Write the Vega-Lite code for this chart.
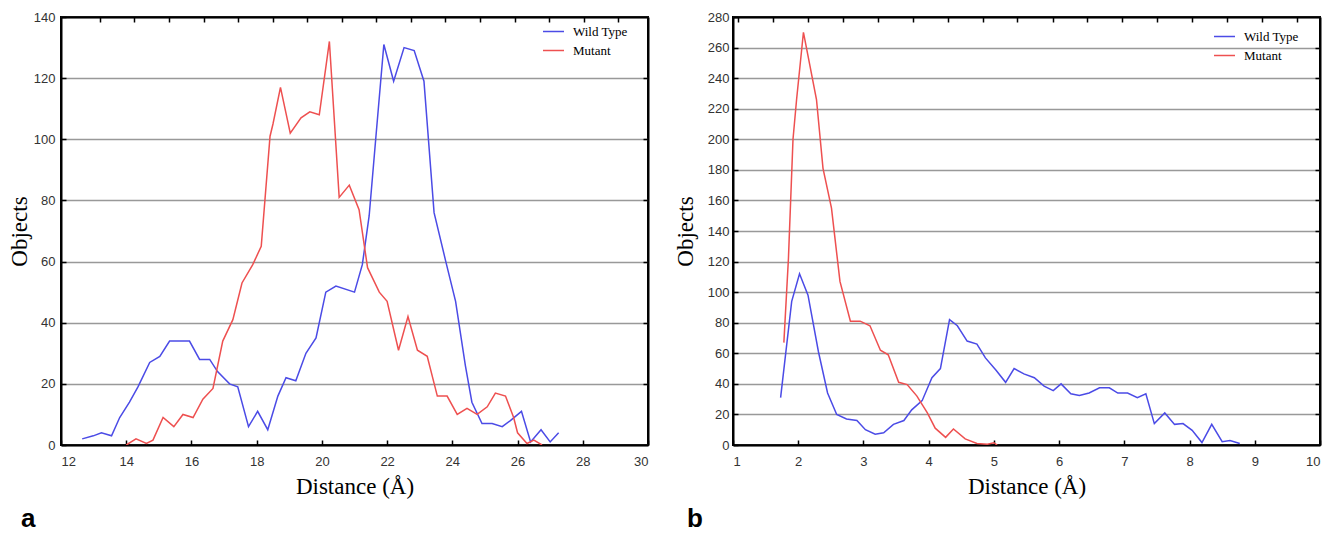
{
  "$schema": "https://vega.github.io/schema/vega-lite/v6.json",
  "padding": {"left": 7, "top": 10, "right": 5, "bottom": 0},
  "spacing": 23,
  "background": "white",
  "resolve": {"scale": {"color": "independent"}, "legend": {"color": "independent"}},
  "config": {
    "view": {"stroke": "black", "strokeWidth": 2},
    "axis": {
      "domain": true,
      "domainColor": "black",
      "domainWidth": 2,
      "tickColor": "black",
      "tickWidth": 1.5,
      "tickSize": -5,
      "labelFont": "Liberation Sans",
      "labelFontSize": 13,
      "labelColor": "#333333",
      "titleFont": "Liberation Serif",
      "titleFontSize": 23,
      "titleFontWeight": "normal",
      "titleColor": "black",
      "gridColor": "#999999",
      "gridWidth": 1.5,
      "gridOpacity": 1
    },
    "legend": {
      "labelFont": "Liberation Serif",
      "labelFontSize": 13,
      "labelColor": "black",
      "symbolType": "stroke",
      "symbolSize": 441,
      "symbolStrokeWidth": 1.5,
      "labelOffset": 8,
      "padding": 0
    },
    "title": {"font": "Liberation Sans", "fontSize": 26, "fontWeight": "bold", "color": "black"}
  },
  "datasets": {
    "a": [
      {"d": 12.65, "n": 2, "s": "Wild Type"},
      {"d": 12.99, "n": 3, "s": "Wild Type"},
      {"d": 13.24, "n": 4, "s": "Wild Type"},
      {"d": 13.55, "n": 3, "s": "Wild Type"},
      {"d": 13.8, "n": 9, "s": "Wild Type"},
      {"d": 14.1, "n": 14, "s": "Wild Type"},
      {"d": 14.36, "n": 19, "s": "Wild Type"},
      {"d": 14.72, "n": 27, "s": "Wild Type"},
      {"d": 15.03, "n": 29, "s": "Wild Type"},
      {"d": 15.33, "n": 34, "s": "Wild Type"},
      {"d": 15.64, "n": 34, "s": "Wild Type"},
      {"d": 15.94, "n": 34, "s": "Wild Type"},
      {"d": 16.25, "n": 28, "s": "Wild Type"},
      {"d": 16.56, "n": 28, "s": "Wild Type"},
      {"d": 16.8, "n": 24, "s": "Wild Type"},
      {"d": 17.17, "n": 20, "s": "Wild Type"},
      {"d": 17.42, "n": 19, "s": "Wild Type"},
      {"d": 17.75, "n": 6, "s": "Wild Type"},
      {"d": 18.03, "n": 11, "s": "Wild Type"},
      {"d": 18.34, "n": 5, "s": "Wild Type"},
      {"d": 18.65, "n": 16, "s": "Wild Type"},
      {"d": 18.9, "n": 22, "s": "Wild Type"},
      {"d": 19.2, "n": 21, "s": "Wild Type"},
      {"d": 19.51, "n": 30, "s": "Wild Type"},
      {"d": 19.82, "n": 35, "s": "Wild Type"},
      {"d": 20.12, "n": 50, "s": "Wild Type"},
      {"d": 20.43, "n": 52, "s": "Wild Type"},
      {"d": 21.0, "n": 50, "s": "Wild Type"},
      {"d": 21.24, "n": 59, "s": "Wild Type"},
      {"d": 21.45, "n": 75, "s": "Wild Type"},
      {"d": 21.65, "n": 100, "s": "Wild Type"},
      {"d": 21.9, "n": 131, "s": "Wild Type"},
      {"d": 22.2, "n": 119, "s": "Wild Type"},
      {"d": 22.52, "n": 130, "s": "Wild Type"},
      {"d": 22.83, "n": 129, "s": "Wild Type"},
      {"d": 23.13, "n": 119, "s": "Wild Type"},
      {"d": 23.44, "n": 76, "s": "Wild Type"},
      {"d": 23.8, "n": 60, "s": "Wild Type"},
      {"d": 24.1, "n": 47, "s": "Wild Type"},
      {"d": 24.4, "n": 26, "s": "Wild Type"},
      {"d": 24.6, "n": 14, "s": "Wild Type"},
      {"d": 24.91, "n": 7, "s": "Wild Type"},
      {"d": 25.22, "n": 7, "s": "Wild Type"},
      {"d": 25.53, "n": 6, "s": "Wild Type"},
      {"d": 25.78, "n": 8, "s": "Wild Type"},
      {"d": 26.12, "n": 11, "s": "Wild Type"},
      {"d": 26.4, "n": 1, "s": "Wild Type"},
      {"d": 26.72, "n": 5, "s": "Wild Type"},
      {"d": 27.0, "n": 1, "s": "Wild Type"},
      {"d": 27.26, "n": 4, "s": "Wild Type"},
      {"d": 14.0, "n": 0, "s": "Mutant"},
      {"d": 14.3, "n": 2, "s": "Mutant"},
      {"d": 14.62, "n": 0.5, "s": "Mutant"},
      {"d": 14.82, "n": 1.6, "s": "Mutant"},
      {"d": 15.13, "n": 9, "s": "Mutant"},
      {"d": 15.46, "n": 6, "s": "Mutant"},
      {"d": 15.74, "n": 10, "s": "Mutant"},
      {"d": 16.05, "n": 9, "s": "Mutant"},
      {"d": 16.35, "n": 15, "s": "Mutant"},
      {"d": 16.66, "n": 18.5, "s": "Mutant"},
      {"d": 16.96, "n": 34, "s": "Mutant"},
      {"d": 17.27, "n": 41, "s": "Mutant"},
      {"d": 17.55, "n": 53, "s": "Mutant"},
      {"d": 17.88, "n": 59, "s": "Mutant"},
      {"d": 18.14, "n": 65, "s": "Mutant"},
      {"d": 18.41, "n": 101, "s": "Mutant"},
      {"d": 18.5, "n": 105, "s": "Mutant"},
      {"d": 18.73, "n": 117, "s": "Mutant"},
      {"d": 19.03, "n": 102, "s": "Mutant"},
      {"d": 19.36, "n": 107, "s": "Mutant"},
      {"d": 19.63, "n": 109, "s": "Mutant"},
      {"d": 19.92, "n": 108, "s": "Mutant"},
      {"d": 20.23, "n": 132, "s": "Mutant"},
      {"d": 20.53, "n": 81, "s": "Mutant"},
      {"d": 20.84, "n": 85, "s": "Mutant"},
      {"d": 21.14, "n": 77, "s": "Mutant"},
      {"d": 21.4, "n": 58, "s": "Mutant"},
      {"d": 21.76, "n": 50, "s": "Mutant"},
      {"d": 22.0, "n": 47, "s": "Mutant"},
      {"d": 22.35, "n": 31, "s": "Mutant"},
      {"d": 22.64, "n": 42, "s": "Mutant"},
      {"d": 22.93, "n": 31, "s": "Mutant"},
      {"d": 23.23, "n": 29, "s": "Mutant"},
      {"d": 23.54, "n": 16, "s": "Mutant"},
      {"d": 23.84, "n": 16, "s": "Mutant"},
      {"d": 24.15, "n": 10, "s": "Mutant"},
      {"d": 24.45, "n": 12, "s": "Mutant"},
      {"d": 24.76, "n": 10, "s": "Mutant"},
      {"d": 25.07, "n": 12.5, "s": "Mutant"},
      {"d": 25.32, "n": 17, "s": "Mutant"},
      {"d": 25.63, "n": 16, "s": "Mutant"},
      {"d": 25.88, "n": 9, "s": "Mutant"},
      {"d": 26.0, "n": 4, "s": "Mutant"},
      {"d": 26.29, "n": 0.5, "s": "Mutant"},
      {"d": 26.5, "n": 1.6, "s": "Mutant"},
      {"d": 26.75, "n": 0, "s": "Mutant"}
    ],
    "b": [
      {"d": 1.73, "n": 31, "s": "Wild Type"},
      {"d": 1.9, "n": 94, "s": "Wild Type"},
      {"d": 2.02, "n": 112, "s": "Wild Type"},
      {"d": 2.15, "n": 98, "s": "Wild Type"},
      {"d": 2.31, "n": 61, "s": "Wild Type"},
      {"d": 2.45, "n": 34, "s": "Wild Type"},
      {"d": 2.59, "n": 20, "s": "Wild Type"},
      {"d": 2.74, "n": 17, "s": "Wild Type"},
      {"d": 2.9, "n": 16, "s": "Wild Type"},
      {"d": 3.03, "n": 10, "s": "Wild Type"},
      {"d": 3.18, "n": 7, "s": "Wild Type"},
      {"d": 3.31, "n": 8, "s": "Wild Type"},
      {"d": 3.46, "n": 13.5, "s": "Wild Type"},
      {"d": 3.62, "n": 16, "s": "Wild Type"},
      {"d": 3.74, "n": 23, "s": "Wild Type"},
      {"d": 3.9, "n": 29, "s": "Wild Type"},
      {"d": 4.05, "n": 44, "s": "Wild Type"},
      {"d": 4.18, "n": 50, "s": "Wild Type"},
      {"d": 4.32, "n": 82, "s": "Wild Type"},
      {"d": 4.44, "n": 78, "s": "Wild Type"},
      {"d": 4.59, "n": 68, "s": "Wild Type"},
      {"d": 4.74, "n": 66, "s": "Wild Type"},
      {"d": 4.87, "n": 57, "s": "Wild Type"},
      {"d": 5.03, "n": 49, "s": "Wild Type"},
      {"d": 5.18, "n": 41, "s": "Wild Type"},
      {"d": 5.31, "n": 50, "s": "Wild Type"},
      {"d": 5.46, "n": 46.5, "s": "Wild Type"},
      {"d": 5.62, "n": 44, "s": "Wild Type"},
      {"d": 5.77, "n": 38.5, "s": "Wild Type"},
      {"d": 5.91, "n": 35.6, "s": "Wild Type"},
      {"d": 6.03, "n": 40, "s": "Wild Type"},
      {"d": 6.18, "n": 33.5, "s": "Wild Type"},
      {"d": 6.31, "n": 32.4, "s": "Wild Type"},
      {"d": 6.46, "n": 34, "s": "Wild Type"},
      {"d": 6.62, "n": 37.4, "s": "Wild Type"},
      {"d": 6.77, "n": 37.4, "s": "Wild Type"},
      {"d": 6.9, "n": 34, "s": "Wild Type"},
      {"d": 7.05, "n": 34, "s": "Wild Type"},
      {"d": 7.2, "n": 31, "s": "Wild Type"},
      {"d": 7.33, "n": 33.5, "s": "Wild Type"},
      {"d": 7.46, "n": 14, "s": "Wild Type"},
      {"d": 7.62, "n": 21, "s": "Wild Type"},
      {"d": 7.77, "n": 13.5, "s": "Wild Type"},
      {"d": 7.9, "n": 14, "s": "Wild Type"},
      {"d": 8.04, "n": 9.6, "s": "Wild Type"},
      {"d": 8.19, "n": 1.6, "s": "Wild Type"},
      {"d": 8.34, "n": 13.5, "s": "Wild Type"},
      {"d": 8.5, "n": 2.2, "s": "Wild Type"},
      {"d": 8.62, "n": 3, "s": "Wild Type"},
      {"d": 8.77, "n": 1, "s": "Wild Type"},
      {"d": 1.78, "n": 67, "s": "Mutant"},
      {"d": 1.85, "n": 122, "s": "Mutant"},
      {"d": 1.92, "n": 200, "s": "Mutant"},
      {"d": 1.975, "n": 226, "s": "Mutant"},
      {"d": 2.08, "n": 270, "s": "Mutant"},
      {"d": 2.18, "n": 248, "s": "Mutant"},
      {"d": 2.28, "n": 226, "s": "Mutant"},
      {"d": 2.38, "n": 181, "s": "Mutant"},
      {"d": 2.51, "n": 155, "s": "Mutant"},
      {"d": 2.64, "n": 107, "s": "Mutant"},
      {"d": 2.8, "n": 81, "s": "Mutant"},
      {"d": 2.95, "n": 81, "s": "Mutant"},
      {"d": 3.1, "n": 78, "s": "Mutant"},
      {"d": 3.26, "n": 62, "s": "Mutant"},
      {"d": 3.38, "n": 59, "s": "Mutant"},
      {"d": 3.54, "n": 41, "s": "Mutant"},
      {"d": 3.67, "n": 39.5, "s": "Mutant"},
      {"d": 3.82, "n": 32, "s": "Mutant"},
      {"d": 3.98, "n": 21, "s": "Mutant"},
      {"d": 4.1, "n": 11, "s": "Mutant"},
      {"d": 4.26, "n": 5, "s": "Mutant"},
      {"d": 4.38, "n": 10.5, "s": "Mutant"},
      {"d": 4.56, "n": 4, "s": "Mutant"},
      {"d": 4.74, "n": 1, "s": "Mutant"},
      {"d": 4.9, "n": 0.5, "s": "Mutant"},
      {"d": 5.0, "n": 1.5, "s": "Mutant"},
      {"d": 5.05, "n": 0, "s": "Mutant"}
    ]
  },
  "hconcat": [
    {
      "width": 587,
      "height": 428,
      "data": {"name": "a"},
      "title": {"text": "a", "orient": "bottom", "anchor": "start", "frame": "group", "dx": -40, "offset": 8},
      "layer": [
        {
          "mark": {"type": "line", "strokeWidth": 1.5, "clip": true},
          "encoding": {
            "x": {"field": "d", "type": "quantitative", "scale": {"domain": [12, 30], "nice": false, "zero": false},
              "axis": {"orient": "bottom", "title": "Distance (Å)", "values": [12, 14, 16, 18, 20, 22, 24, 26, 28, 30], "grid": false, "labelPadding": 15, "titlePadding": 7}},
            "y": {"field": "n", "type": "quantitative", "scale": {"domain": [0, 140], "nice": false},
              "axis": {"orient": "left", "title": "Objects", "values": [0, 20, 40, 60, 80, 100, 120, 140], "grid": true, "labelPadding": 11, "minExtent": 30, "maxExtent": 30, "titlePadding": 0}},
            "color": {"field": "s", "type": "nominal", "scale": {"domain": ["Wild Type", "Mutant"], "range": ["#4b4be6", "#ee5050"]},
              "legend": {"title": null, "orient": "none", "legendX": 481, "legendY": 3, "rowPadding": -8}}
          }
        },
        {
          "mark": {"type": "point", "opacity": 0},
          "encoding": {
            "x": {"field": "d", "type": "quantitative",
              "axis": {"orient": "top", "title": null, "labels": false, "grid": false, "values": [13.19, 14.25, 15.31, 16.37, 17.43, 18.49, 19.55, 20.61, 21.67, 22.73, 23.79, 24.85, 25.91, 26.97, 28.03, 29.09]}},
            "y": {"field": "n", "type": "quantitative",
              "axis": {"orient": "right", "title": null, "labels": false, "grid": false, "values": [20, 40, 60, 80, 100, 120]}}
          }
        }
      ],
      "resolve": {"axis": {"x": "independent", "y": "independent"}}
    },
    {
      "width": 587,
      "height": 428,
      "data": {"name": "b"},
      "title": {"text": "b", "orient": "bottom", "anchor": "start", "frame": "group", "dx": -46, "offset": 8},
      "layer": [
        {
          "mark": {"type": "line", "strokeWidth": 1.5, "clip": true},
          "encoding": {
            "x": {"field": "d", "type": "quantitative", "scale": {"domain": [1, 10], "nice": false, "zero": false},
              "axis": {"orient": "bottom", "title": "Distance (Å)", "values": [1, 2, 3, 4, 5, 6, 7, 8, 9, 10], "grid": false, "labelPadding": 15, "titlePadding": 7}},
            "y": {"field": "n", "type": "quantitative", "scale": {"domain": [0, 280], "nice": false},
              "axis": {"orient": "left", "title": "Objects", "values": [0, 20, 40, 60, 80, 100, 120, 140, 160, 180, 200, 220, 240, 260, 280], "grid": true, "labelPadding": 9, "minExtent": 30, "maxExtent": 30, "titlePadding": 6}},
            "color": {"field": "s", "type": "nominal", "scale": {"domain": ["Wild Type", "Mutant"], "range": ["#4b4be6", "#ee5050"]},
              "legend": {"title": null, "orient": "none", "legendX": 480, "legendY": 8, "rowPadding": -6}}
          }
        },
        {
          "mark": {"type": "point", "opacity": 0},
          "encoding": {
            "x": {"field": "d", "type": "quantitative",
              "axis": {"orient": "top", "title": null, "labels": false, "grid": false, "values": [1.08, 1.62, 2.15, 2.69, 3.22, 3.76, 4.29, 4.83, 5.36, 5.9, 6.43, 6.97, 7.5, 8.04, 8.57, 9.11, 9.64]}},
            "y": {"field": "n", "type": "quantitative",
              "axis": {"orient": "right", "title": null, "labels": false, "grid": false, "values": [20, 40, 60, 80, 100, 120, 140, 160, 180, 200, 220, 240, 260]}}
          }
        }
      ],
      "resolve": {"axis": {"x": "independent", "y": "independent"}}
    }
  ]
}
